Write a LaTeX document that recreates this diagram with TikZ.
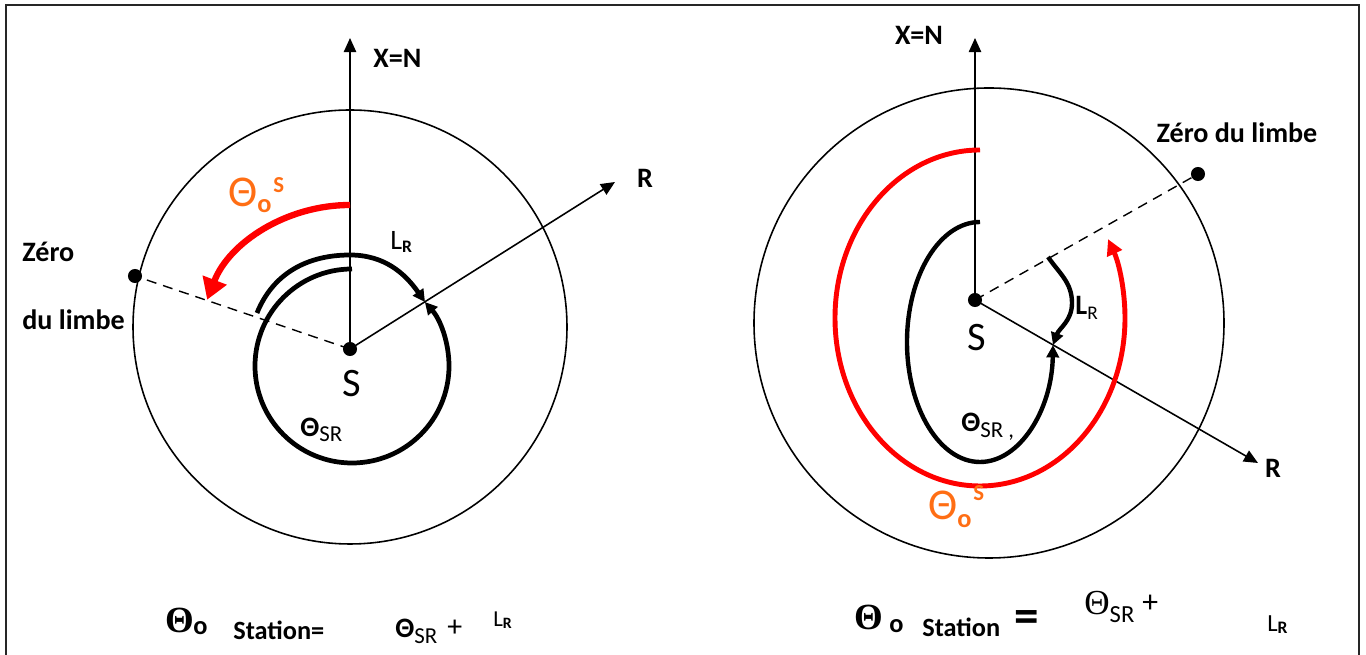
\documentclass[tikz,border=0pt]{standalone}
\usepackage{fontspec}
\setmainfont{Carlito}
\newfontfamily\serifgr{Liberation Serif}
\usepackage{tikz}
\usetikzlibrary{arrows.meta,positioning,calc}
\definecolor{limbered}{RGB}{255,0,0}
\definecolor{thetaorange}{RGB}{255,110,20}
\newcommand{\fsz}[1]{\fontsize{#1}{#1}\selectfont}

\begin{document}
\begin{tikzpicture}[
      x=0.02cm, y=0.02cm,
      >={Triangle[length=8pt,width=7pt]},
      axis/.style={->, line width=0.9pt},
      limbe/.style={line width=0.9pt},
      zline/.style={line width=0.8pt, dash pattern=on 5.7pt off 4pt},
      dot/.style={circle, fill, inner sep=0pt, minimum size=8pt},
      lab/.style={inner sep=0pt, font=\fsz{16}\bfseries},
      txt/.style={inner sep=0pt, anchor=base west},
      redarc/.style={limbered, line width=3.6pt},
      blkarc/.style={line width=2.7pt, -{Triangle[length=7pt,width=7pt]}},
    ]
    \useasboundingbox (0,0) rectangle (1366,655);
    % --- frame ---
    \draw[line width=1.2pt, black!85] (6,0) -- (6,650) -- (1359,650) -- (1359,0);

    % --- left: station ---
    \node[dot] (S1) at (350,306) {};
    \coordinate (N1) at (350,617);
    \coordinate (R1) at (615,473);
    \node[dot] (Z1) at (135,379) {};
    \draw[limbe] (350,328) circle[radius=217];
    \draw[axis] (S1.center) -- (N1);
    \draw[axis] (S1.center) -- (R1);
    \draw[zline] (S1.center) -- (Z1.center);

    % --- left arcs ---
    \draw[redarc, -{Triangle[length=12pt,width=14pt]}] (350,450)
      arc[start angle=90, end angle=160, x radius=152, y radius=144];
    \draw[blkarc] (257,342) to[out=68, in=180] (350,400) to[out=0, in=125] (425,353);
    \draw[blkarc] (352,386) arc[start angle=90, end angle=401.3, radius=97];

    % --- left labels ---
    \node[lab, anchor=west] (xn1) at (373,597) {X=N};
    \node[lab] (r1) at (645,477) {R};
    \node[lab, anchor=west] (zero1) at (22,403) {Zéro};
    \node[lab, anchor=west] (limbe1) at (22,335) {du limbe};
    \node[inner sep=0pt, font=\fsz{23}] (s1lab) at (352,271) {S};
    \node[txt] (tsr1) at (300,218) {\fsz{16}\bfseries Θ\raisebox{-2.8pt}{\fsz{13}\mdseries SR}};
    \node[txt] (lr1) at (390,405) {\fsz{16}L\raisebox{-1.7pt}{\fsz{10}\bfseries R}};
    \node[txt, text=thetaorange] (tos1) at (228,448)
      {\fsz{25}Θ\raisebox{-3.4pt}{\fsz{15}\bfseries o}\hspace{1pt}\raisebox{8pt}{\fsz{13}\bfseries S}};

    % --- right: station ---
    \node[dot] (S2) at (975,355) {};
    \coordinate (N2) at (975,617);
    \coordinate (R2) at (1258,192);
    \node[dot] (Z2) at (1198,481) {};
    \draw[limbe] (989,332) circle[radius=235];
    \draw[axis] (S2.center) -- (N2);
    \draw[axis] (S2.center) -- (R2);
    \draw[zline] (S2.center) -- (Z2.center);

    % --- right arcs ---
    \draw[redarc, line width=2.8pt, -{Triangle[length=9pt,width=9pt]}] (980,505)
      arc[start angle=90, end angle=388, x radius=145, y radius=168];
    \draw[blkarc, line width=2.5pt] (980,433)
      arc[start angle=90, end angle=358.5, x radius=73, y radius=120];
    \draw[blkarc, line width=2.5pt] (1048,398) to[out=-55, in=90] (1072,352)
      to[out=-90, in=70] (1053,310);

    % --- right labels ---
    \node[lab] (xn2) at (919,620) {X=N};
    \node[lab] (r2) at (1273,187) {R};
    \node[lab] (zero2) at (1237,522) {Zéro du limbe};
    \node[inner sep=0pt, font=\fsz{23}] (s2lab) at (977,317) {S};
    \node[txt] (tsr2) at (961,223) {\fsz{16}\bfseries Θ\raisebox{-3.4pt}{\fsz{13}\mdseries SR ,}};
    \node[txt] (lr2) at (1075,340) {\fsz{16}\bfseries L\raisebox{-2.3pt}{\fsz{11}\mdseries R}};
    \node[txt, text=thetaorange] (tos2) at (928,135)
      {\fsz{25}Θ\raisebox{-4pt}{\fsz{15}\bfseries o}\hspace{1pt}\raisebox{11pt}{\fsz{13}\bfseries S}};

    % --- formulas ---
    \node[txt] (eqth1) at (165,22) {\serifgr\bfseries\fsz{21}Θ};
    \node[txt] (eqo1) at (193,20) {\fsz{15}\bfseries o};
    \node[txt] (eqst1) at (233,15) {\fsz{15}\bfseries Station=};
    \node[txt] (eqsr1) at (395,17) {\fsz{16}\bfseries Θ\raisebox{-3pt}{\fsz{13}\mdseries SR}};
    \node[txt] (eqpl1) at (447,18) {\fsz{17}+};
    \node[txt] (eqlr1) at (493,28) {\fsz{13}L\raisebox{-0.6pt}{\fsz{9}\bfseries R}};

    \node[txt] (eqth2) at (854,25) {\serifgr\bfseries\fsz{21}Θ};
    \node[txt] (eqo2) at (889,22) {\fsz{15}\bfseries o};
    \node[txt] (eqst2) at (922,18) {\fsz{15}\bfseries Station};
    \node[txt] (eqeq2) at (1014,22) {\fsz{28}\bfseries =};
    \node[txt] (eqsr2) at (1084,40) {\serifgr\fsz{20}Θ\raisebox{-4pt}{\rmfamily\fsz{14}SR}};
    \node[txt] (eqpl2) at (1142,42) {\fsz{18}+};
    \node[txt] (eqlr2) at (1267,23) {\fsz{14}L\raisebox{-0.6pt}{\fsz{10}\bfseries R}};
  \end{tikzpicture}
\end{document}
